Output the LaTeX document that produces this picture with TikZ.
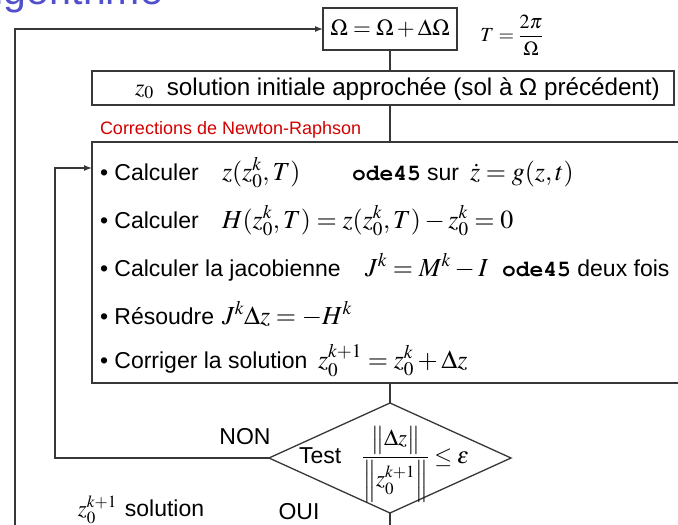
\documentclass[tikz,border=0pt]{standalone}
\usepackage{amsmath}
\usepackage{mathptmx}
\usepackage[no-math]{fontspec}
\setmainfont{Liberation Sans}
\newcommand{\courb}{\fontencoding{OT1}\fontfamily{pcr}\fontseries{b}\fontshape{n}\selectfont}
\usetikzlibrary{arrows.meta,shapes.geometric}
\definecolor{redtxt}{RGB}{210,0,0}
\definecolor{bluetxt}{RGB}{80,80,205}
\definecolor{linec}{RGB}{55,55,55}
\newcommand{\mth}[1]{{\fontsize{26}{30}\selectfont$#1$}}
\begin{document}
\begin{tikzpicture}[x=1pt,y=-1pt,
  every node/.style={font=\fontsize{23}{27}\selectfont, inner sep=0pt, outer sep=0pt},
  boxst/.style={draw=linec, line width=1.3pt, rectangle},
  conn/.style={draw=linec, line width=1.3pt},
  arr/.style={conn, -{Latex[length=8pt,width=6pt]}},
  txt/.style={anchor=base west},
]
\useasboundingbox (0,0) rectangle (678,525);
\node[anchor=base west, font=\fontsize{41}{45}\selectfont, text=bluetxt] (title) at (-33,4) {Algorithme};
\node[boxst, minimum width=134, minimum height=42] (omega) at (390,29) {$\Omega=\Omega+\Delta\Omega$};
\node[font=\fontsize{20}{24}\selectfont] (period) at (512,35) {$T=\dfrac{2\pi}{\Omega}$};
\node[boxst, minimum width=582, minimum height=34] (z0box) at (383,88) {};
\node[txt, font=\fontsize{24.2}{28}\selectfont] (z0txt) at (135,95) {$z_0$\hspace{13pt}solution initiale approchée (sol à Ω précédent)};
\node[txt, font=\fontsize{18}{21}\selectfont, text=redtxt] (nrlabel) at (100,134) {Corrections de Newton-Raphson};
\node[boxst, minimum width=610, minimum height=241] (nrbox) at (397,262.5) {};
% item 1
\node[txt] (i1a) at (100,180) {• Calculer};
\node[txt] (i1b) at (222,180) {\mth{z(z_0^k,T)}};
\node[txt] (i1c) at (352,180) {\courb ode45};
\node[txt] (i1d) at (427,180) {sur};
\node[txt] (i1e) at (470,180) {\mth{\dot z=g(z,t)}};
% item 2
\node[txt] (i2a) at (100,228) {• Calculer};
\node[txt] (i2b) at (222,228) {\mth{H(z_0^k,T)=z(z_0^k,T)-z_0^k=0}};
% item 3
\node[txt] (i3a) at (100,276) {• Calculer la jacobienne};
\node[txt] (i3b) at (365,276) {\mth{J^k=M^k-I}};
\node[txt] (i3c) at (502,276) {{\courb ode45} deux fois};
% item 4
\node[txt] (i4a) at (100,324) {• Résoudre};
\node[txt] (i4b) at (222,324) {\mth{J^k\Delta z=-H^k}};
% item 5
\node[txt] (i5a) at (100,368) {• Corriger la solution};
\node[txt] (i5b) at (318,368) {\mth{z_0^{k+1}=z_0^k+\Delta z}};
% test
\node[draw=linec, line width=1.3pt, diamond, minimum width=242, minimum height=110] (test) at (390,458) {};
\node[txt] (testtxt) at (299,463) {Test\hspace{21pt}$\dfrac{\bigl\|\Delta z\bigr\|}{\Bigl\|z_0^{k+1}\Bigr\|}\le\varepsilon$};
\node (non) at (245,437) {NON};
\node (oui) at (299,512) {OUI};
\node (sol) at (141,510) {$z_0^{k+1}$\hspace{8pt}solution};
% connectors
\coordinate (outerfoot) at (15,540);
\coordinate (innerx) at (55,0);
\coordinate (looprow) at (0,168);
\coordinate (exitfoot) at (390,540);
\draw[arr] (outerfoot) |- (omega.west);
\draw[conn] (omega.south) -- (omega.south |- z0box.north);
\draw[conn] (omega.south |- z0box.south) -- (omega.south |- nrbox.north);
\draw[conn] (test.north |- nrbox.south) -- (test.north);
\draw[arr] (test.west) -| (innerx |- looprow) -- (nrbox.west |- looprow);
\draw[conn] (test.south) -- (exitfoot);
\end{tikzpicture}
\end{document}
